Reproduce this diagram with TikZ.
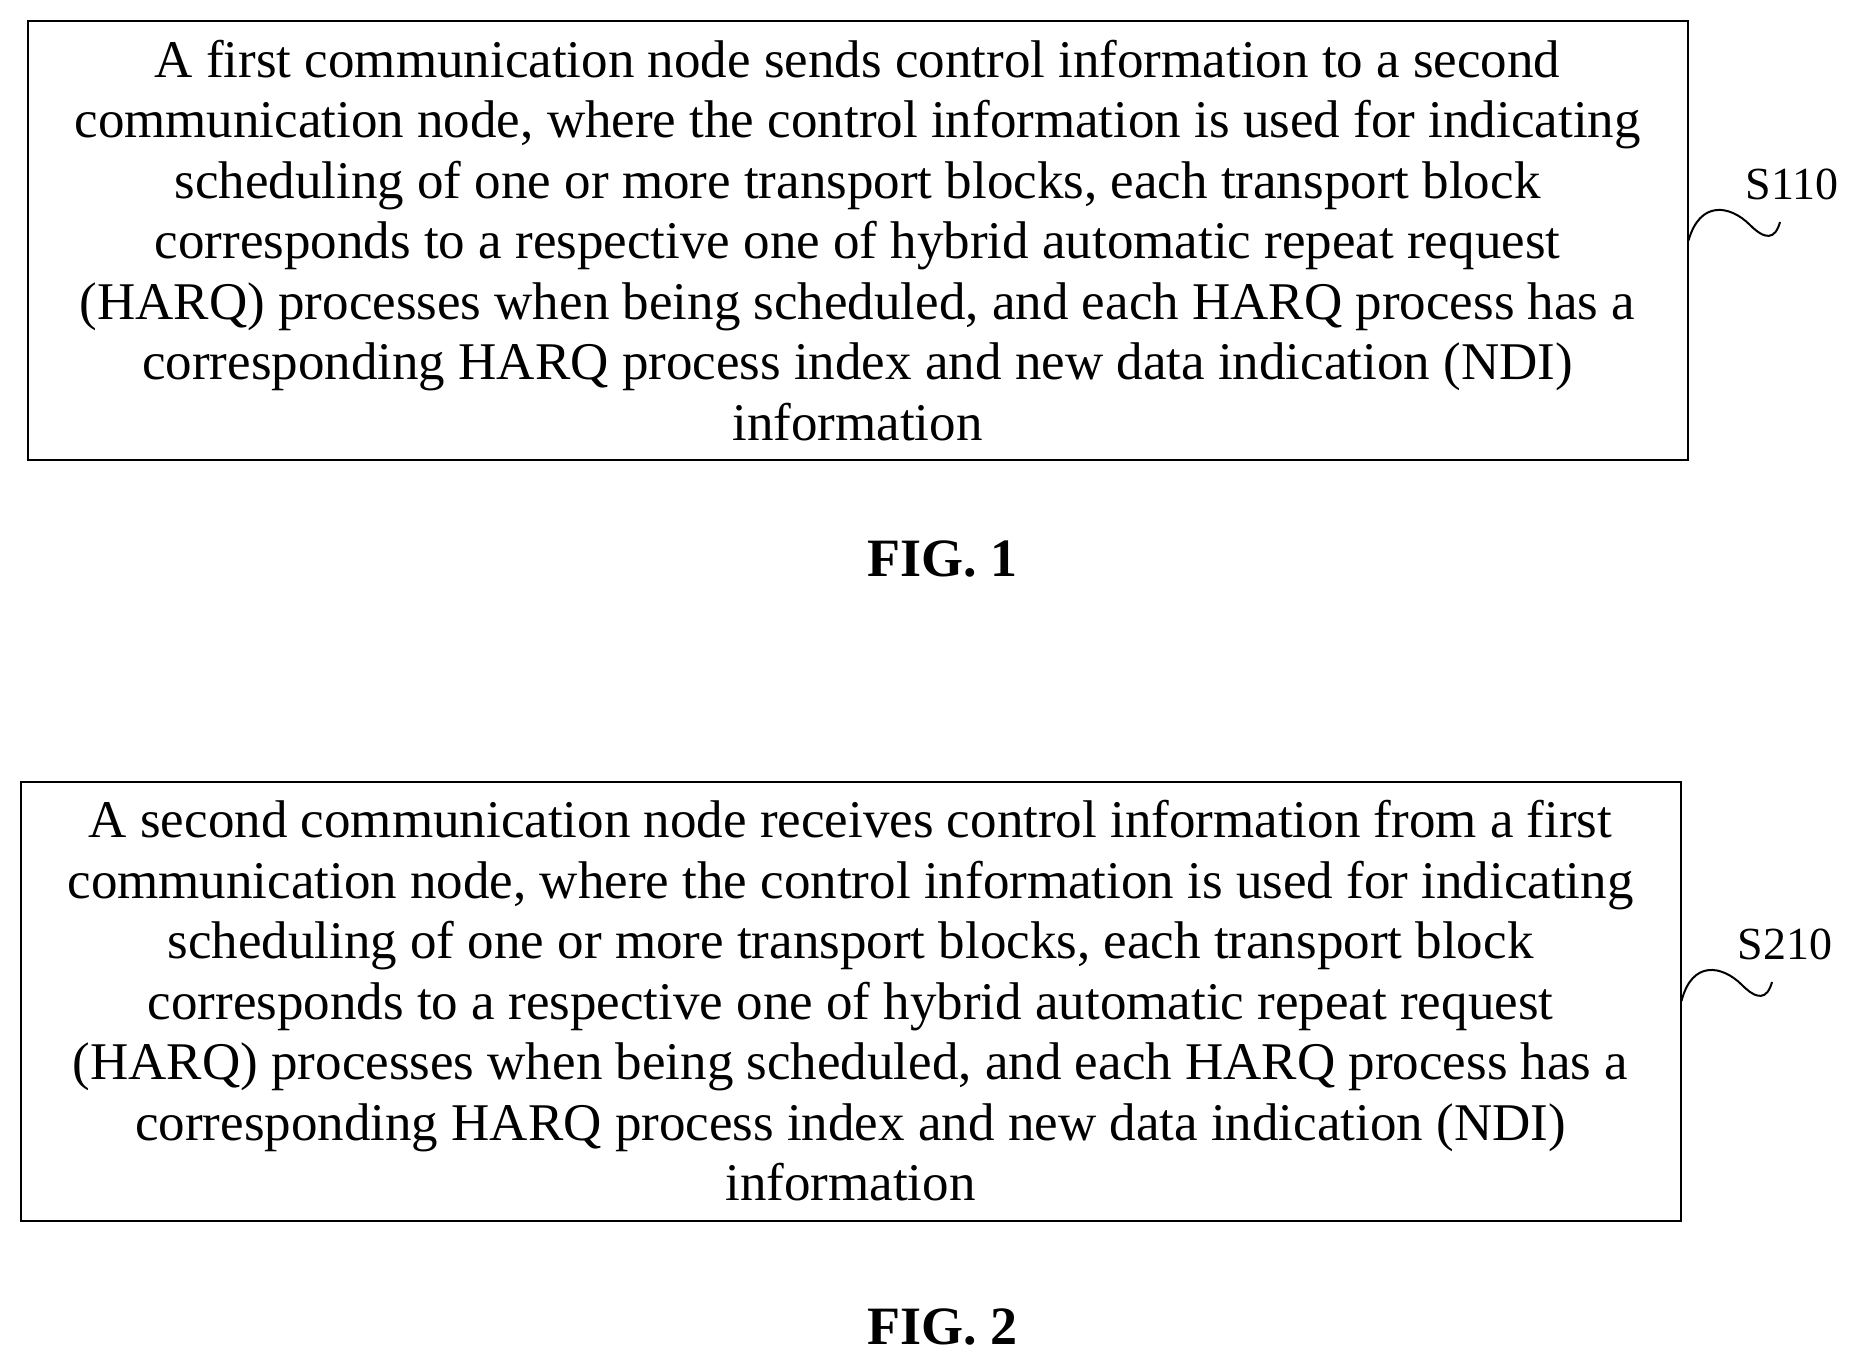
\documentclass[tikz,border=0pt]{standalone}
\usepackage{fontspec}
\setmainfont{Liberation Serif}
\begin{document}
\begin{tikzpicture}[x=1pt,y=-1pt,
  stepbox/.style={draw,line width=2pt,minimum width=1660pt,minimum height=439pt,align=center,inner sep=0pt,font=\fontsize{53}{60.5}\selectfont},
  lbl/.style={font=\fontsize{46}{50}\selectfont},
  fig/.style={font=\fontsize{54}{60}\selectfont\bfseries}]
\useasboundingbox (0,0) rectangle (1857,1364);
\node[stepbox] (b1) at (857.5,240.5) {A first communication node sends control information to a second\\communication node, where the control information is used for indicating\\scheduling of one or more transport blocks, each transport block\\corresponds to a respective one of hybrid automatic repeat request\\(HARQ) processes when being scheduled, and each HARQ process has a\\corresponding HARQ process index and new data indication (NDI)\\information};
\node[lbl] (s1) at (1792,184) {S110};
\draw[line width=2pt] (b1.east) .. controls (1700,200) and (1730,205) .. (1750,225) .. controls (1765,240) and (1775,240) .. (1780,222);
\node[fig] (f1) at (942,559) {FIG. 1};
\node[stepbox] (b2) at (850.5,1001) {A second communication node receives control information from a first\\communication node, where the control information is used for indicating\\scheduling of one or more transport blocks, each transport block\\corresponds to a respective one of hybrid automatic repeat request\\(HARQ) processes when being scheduled, and each HARQ process has a\\corresponding HARQ process index and new data indication (NDI)\\information};
\node[lbl] (s2) at (1785,944) {S210};
\draw[line width=2pt] (b2.east) .. controls (1692,960) and (1722,965) .. (1742,985) .. controls (1757,1000) and (1767,1000) .. (1772,982);
\node[fig] (f2) at (942,1327) {FIG. 2};
\end{tikzpicture}
\end{document}
